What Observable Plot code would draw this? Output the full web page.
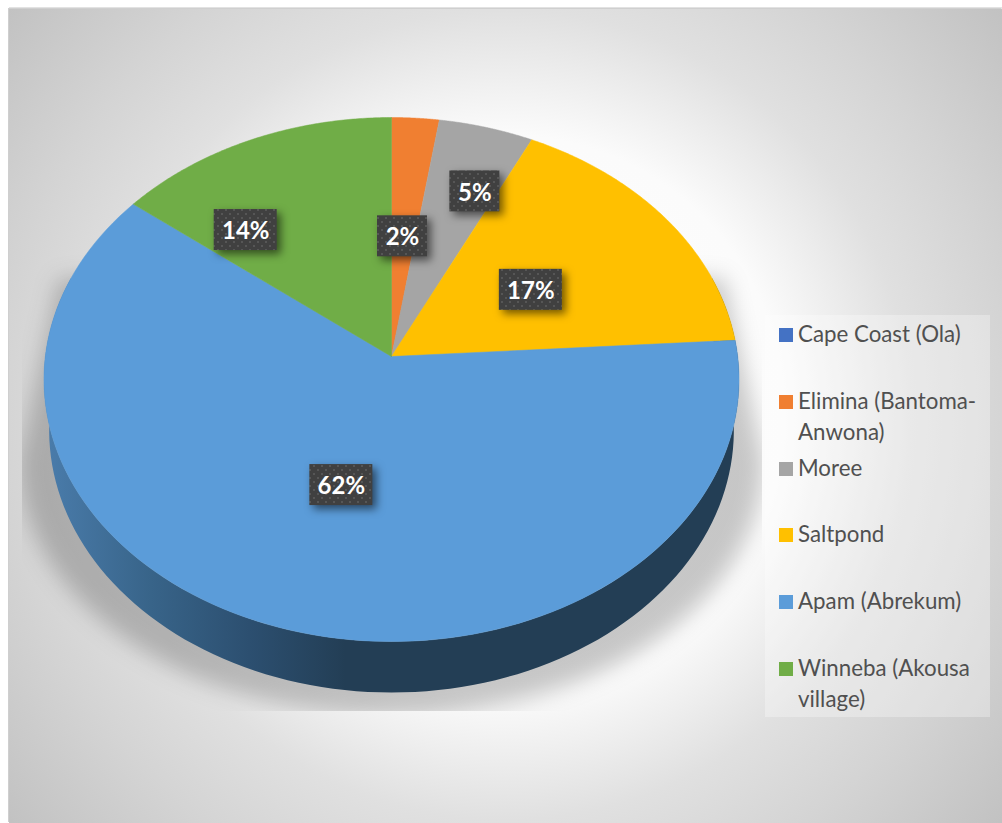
<!DOCTYPE html>
<html>
<head>
<meta charset="utf-8">
<script src="https://cdn.jsdelivr.net/npm/d3@7"></script>
<script src="https://cdn.jsdelivr.net/npm/@observablehq/plot@0.6"></script>
<style>
  html, body { margin: 0; padding: 0; background: #fff; width: 1002px; height: 823px; overflow: hidden; }
  #stage { position: relative; width: 1002px; height: 823px; font-family: Lato, "Noto Sans", sans-serif; }
  #panel {
    position: absolute; left: 9px; top: 9px; right: 0; bottom: 0;
    box-shadow: -1px -1px 0 #cfcfcf, 0 -2px 0 #e2e2e2;
    background: radial-gradient(circle 640px at 496px 406px,
      #ffffff 0, #fbfbfb 280px, #e0e0e0 405px, #d4d4d4 504px, #c2c2c2 640px);
  }
  #chart { position: absolute; left: 0; top: 0; }
  #legend {
    position: absolute; left: 765px; top: 315px; width: 225px; height: 402px;
    background: rgba(255, 255, 255, 0.3);
  }
  .entry { position: absolute; left: 14px; width: 208px; }
  .entry i { position: absolute; left: 0; top: 0; width: 14px; height: 14px; }
  .entry span {
    position: absolute; left: 19px; top: -10px; width: 190px;
    font-size: 22.3px; line-height: 31px; color: #505050;
  }
</style>
</head>
<body>
<div id="stage">
  <div id="panel"></div>
  <div id="chart"></div>
  <div id="legend"></div>
</div>
<script>
// Landing sites and their share of the catch, in per cent.
const sites = ["Cape Coast (Ola)", "Elimina (Bantoma-Anwona)", "Moree", "Saltpond", "Apam (Abrekum)", "Winneba (Akousa village)"];
const shares = [0, 2.4, 4.8, 16.8, 61.6, 14.4];
const siteColors = ["#4472c4", "#f07f31", "#a5a5a5", "#ffc000", "#5b9cd9", "#70ad47"];

// Where each percentage box sits relative to the middle of its wedge (px).
const labelNudge = [[0, 0], [-1.5, 4], [34, -46], [-1, 4], [3.5, -1], [-73, -14]];

// Tilted-disc geometry: pixels per unit along each axis, the disc centre,
// the foreshortening of the far rim, and the thickness of the wall.
const unitX = 346.2, unitY = 260, centreX = 391, centreY = 356;
const tilt = 0.0878, wallDepth = 51 / unitY, wallTaper = 0.985;
const width = 1002, height = 823;

const project = (turn, r = 1) => {
  const p = r * Math.sin(turn), q = r * Math.cos(turn), w = 1 + tilt * q;
  return [p / w, q / w];
};
const arc = (from, to) => d3.range(0, 121).map((i) => project(from + (to - from) * i / 120));

// Wedges clockwise from twelve o'clock.
const total = d3.sum(shares);
let running = 0;
const wedges = sites.map((name, i) => {
  const start = running / total * 2 * Math.PI;
  running += shares[i];
  return {name, share: shares[i], start, end: running / total * 2 * Math.PI, nudge: labelNudge[i]};
});

const wedgeOutline = wedges.filter((d) => d.share > 0).flatMap((d) =>
  [[0, 0], ...arc(d.start, d.end), [0, 0]].map(([x, y]) => ({name: d.name, x, y})));

// Side wall: the visible front rim plus the same rim dropped by the wall depth.
const frontRim = arc(Math.PI * 0.4, Math.PI * 1.6);
const wallOutline = [
  ...frontRim,
  ...frontRim.slice().reverse().map(([x, y]) => [x * wallTaper, y - wallDepth])
].map(([x, y]) => ({x, y}));

// Soft shadow under the disc, tapering away behind its widest point.
const shadowOutline = [
  ...d3.range(0, 181, 3).map((t) => {
    const a = t * Math.PI / 180;
    return {x: 1.0745 * Math.cos(a), y: -0.4 - 0.98 * Math.sin(a)};
  }),
  {x: -0.96, y: 0.3},
  {x: 0.96, y: 0.3}
];

// Percentage boxes.
const labels = wedges.filter((d) => d.share > 0).map((d) => {
  const [mx, my] = project((d.start + d.end) / 2, 0.5);
  const text = `${Math.round(d.share)}%`;
  const boxWidth = text.length > 2 ? 63 : 50;
  const x = mx + d.nudge[0] / unitX, y = my - d.nudge[1] / unitY;
  return {text, x, y, x1: x - boxWidth / 2 / unitX, x2: x + boxWidth / 2 / unitX, y1: y - 20.5 / unitY, y2: y + 20.5 / unitY};
});

const defs = () => {
  const node = d3.create("svg:defs");
  node.html(`
    <linearGradient id="wallShade" gradientUnits="userSpaceOnUse" x1="45" x2="345" y1="0" y2="0">
      <stop offset="0" stop-color="#4a7cab"/>
      <stop offset="0.35" stop-color="#386489"/>
      <stop offset="0.68" stop-color="#2c4f70"/>
      <stop offset="1" stop-color="#233e55"/>
    </linearGradient>
    <pattern id="boxDots" patternUnits="userSpaceOnUse" width="8" height="8">
      <rect width="8" height="8" fill="#404040"/>
      <rect x="1" y="1" width="2" height="2" fill="#565656"/>
      <rect x="5" y="5" width="2" height="2" fill="#565656"/>
    </pattern>
    <filter id="shadowBlur" filterUnits="userSpaceOnUse" x="22" y="0" width="739" height="710">
      <feGaussianBlur stdDeviation="11"/>
    </filter>`);
  return node.node();
};

const chart = Plot.plot({
  width, height,
  margin: 0,
  style: {background: "transparent"},
  x: {axis: null, domain: [-centreX / unitX, (width - centreX) / unitX]},
  y: {axis: null, domain: [(centreY - height) / unitY, centreY / unitY]},
  color: {domain: sites, range: siteColors, legend: false},
  marks: [
    defs,
    // The filter region doubles as the hard edge of the shadow.
    Plot.line(shadowOutline, {
      x: "x", y: "y", fill: "#000000", fillOpacity: 0.21, stroke: "none",
      imageFilter: "url(#shadowBlur)"
    }),
    Plot.line(wallOutline, {x: "x", y: "y", fill: "url(#wallShade)", stroke: "none"}),
    Plot.line(wedgeOutline, {x: "x", y: "y", z: "name", fill: "name", stroke: "name", strokeWidth: 0.5}),
    Plot.rect(labels, {
      x1: "x1", x2: "x2", y1: "y1", y2: "y2", fill: "url(#boxDots)",
      imageFilter: "drop-shadow(4px 4px 4px rgba(0,0,0,0.55))"
    }),
    Plot.text(labels, {
      x: "x", y: "y", text: "text", dy: 1.5, fill: "#fff", fontSize: 24, fontWeight: 700,
      fontFamily: "Lato, sans-serif"
    })
  ]
});
document.getElementById("chart").append(chart);

// Legend: one entry every 67 px down the side panel.
const legend = d3.select("#legend");
sites.forEach((name, i) => {
  const entry = legend.append("div").attr("class", "entry").style("top", `${13 + 66.8 * i}px`);
  entry.append("i").style("background", siteColors[i]);
  entry.append("span").text(name);
});
</script>
</body>
</html>
